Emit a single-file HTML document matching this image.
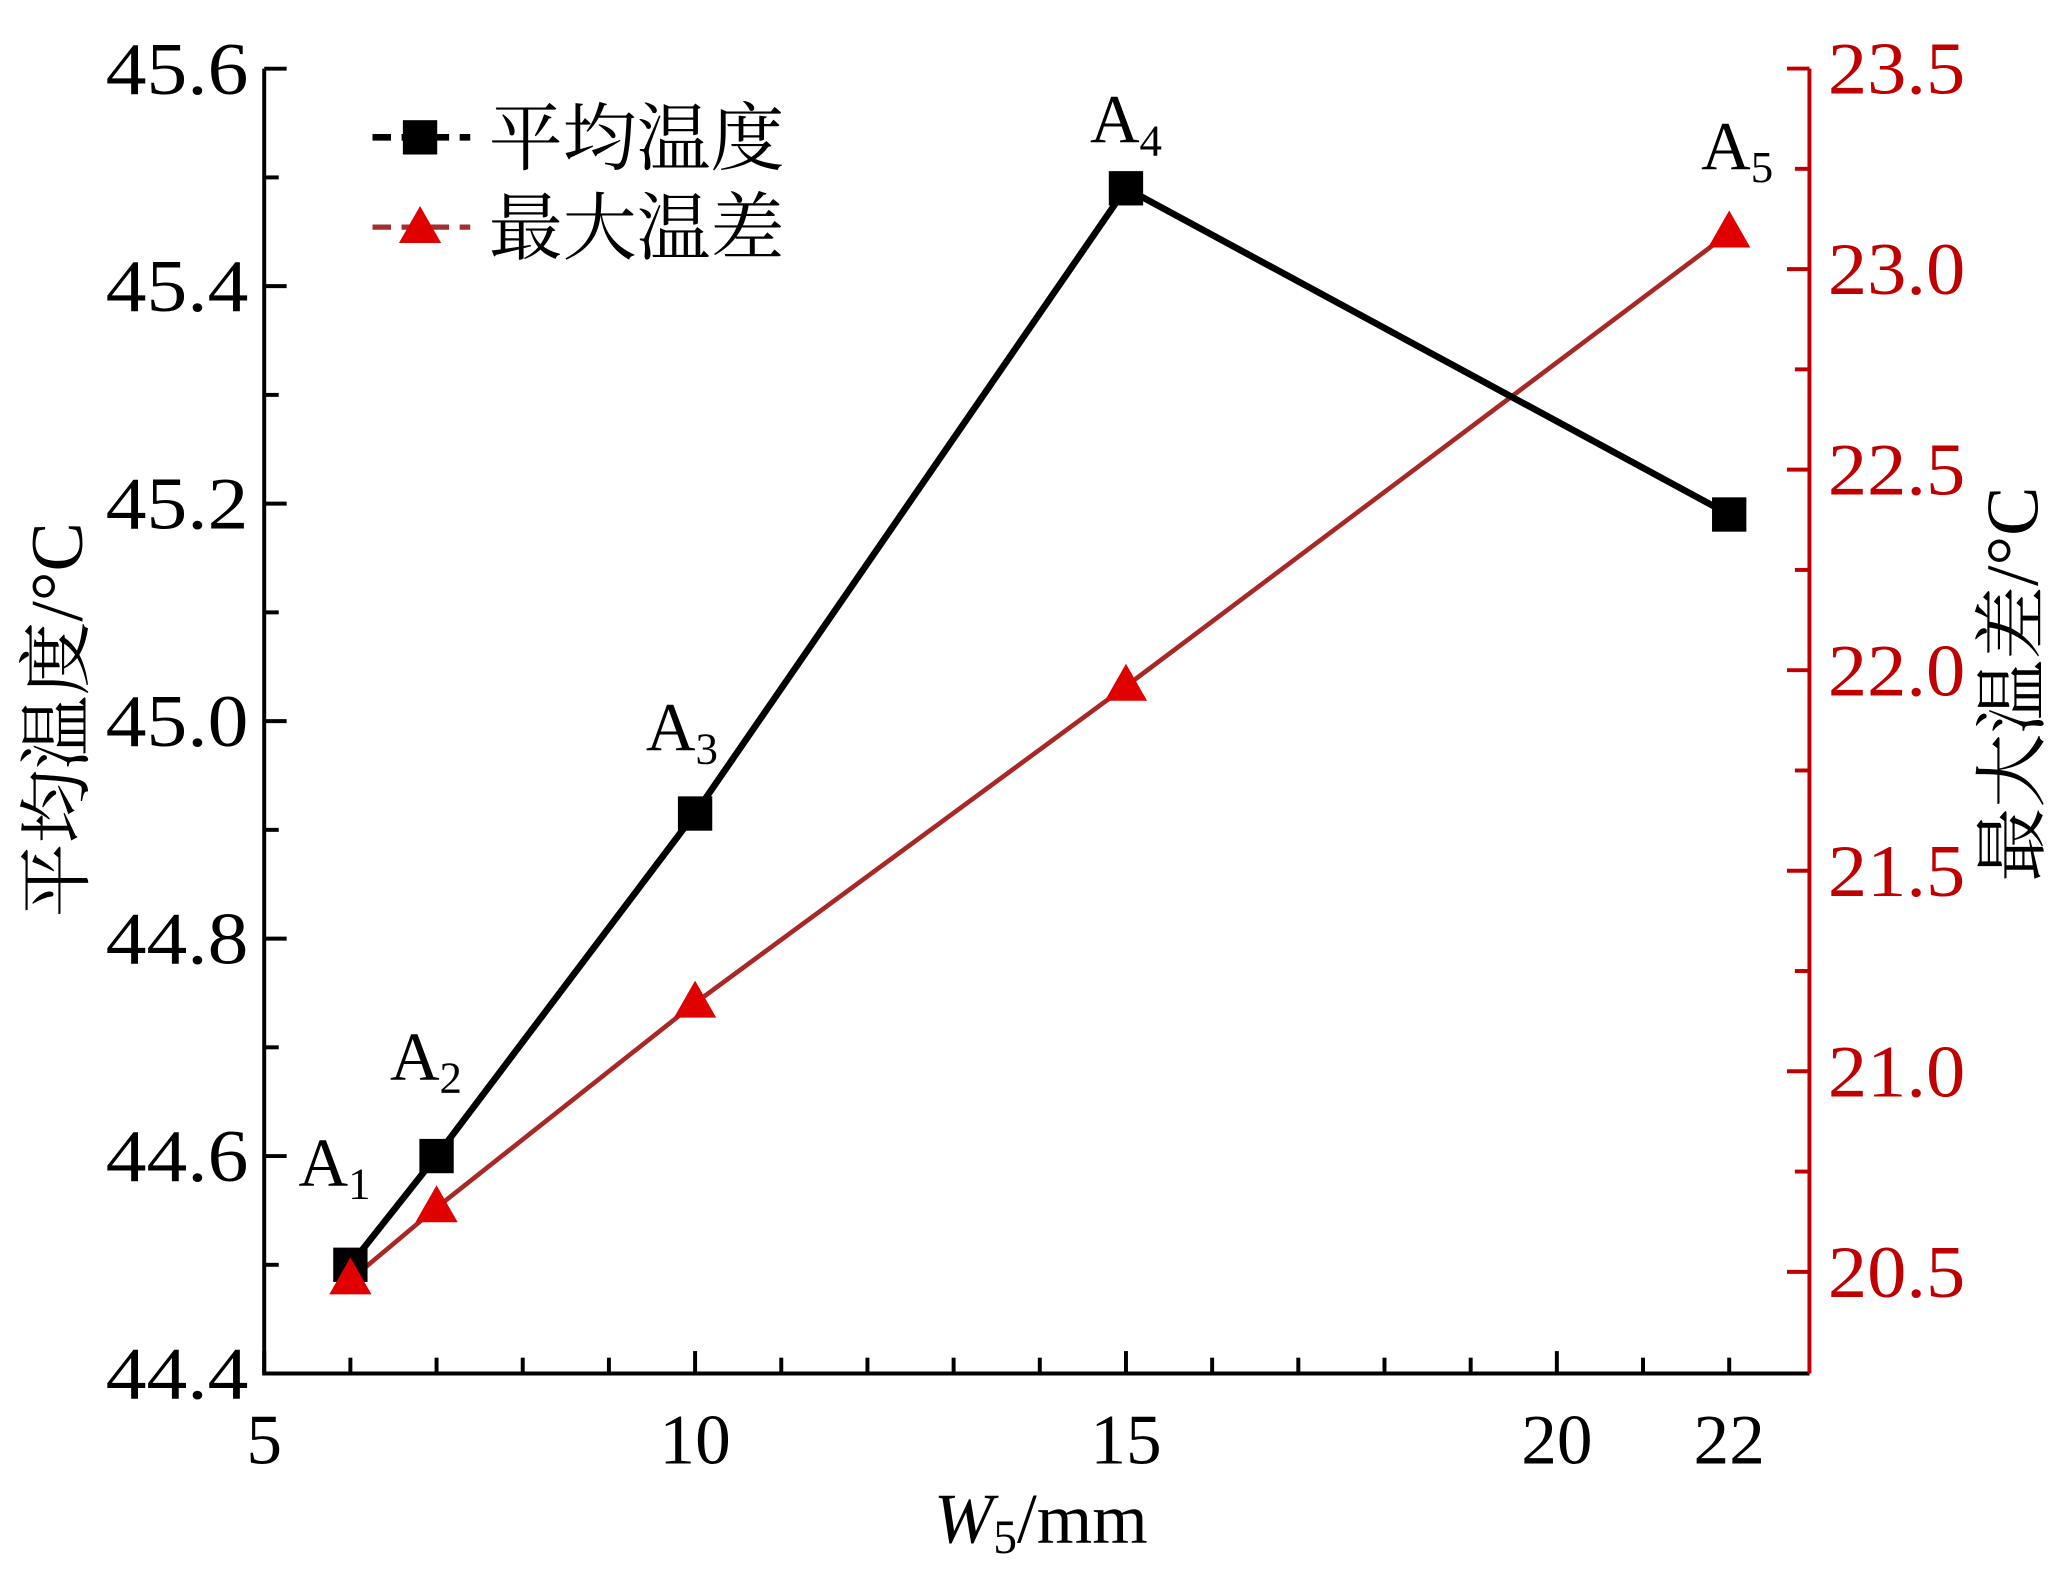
<!DOCTYPE html>
<html><head><meta charset="utf-8"><style>
html,body{margin:0;padding:0;background:#fff;}
svg{display:block;}
text{font-family:"Liberation Serif","Noto Serif CJK SC",serif;}
</style></head><body>
<svg id="chart" width="2071" height="1569" viewBox="0 0 1568 1188" xmlns="http://www.w3.org/2000/svg">
<g id="axes"></g>
<g id="series"></g>
<g>
  <line x1="282" y1="104" x2="356" y2="104" stroke="#000" stroke-width="5" stroke-dasharray="14,8"/>
  <rect x="305" y="91" width="26" height="26" fill="#000"/>
  <text x="370" y="124" font-size="56" fill="#000">平均温度</text>
  <line x1="282" y1="172" x2="356" y2="172" stroke="#a03030" stroke-width="4" stroke-dasharray="14,8"/>
  <polygon points="318,156 334,184 302,184" fill="#e00000"/>
  <text x="370" y="192" font-size="56" fill="#000">最大温差</text>
</g>
<text x="62" y="545" font-size="56" fill="#000" transform="rotate(-90 62 545)" text-anchor="middle">平均温度/°C</text>
<text x="1530" y="518" font-size="56" fill="#000" transform="rotate(-90 1530 518)" text-anchor="middle" dominant-baseline="middle">最大温差/°C</text>
<text x="788" y="1168" font-size="54" fill="#000" text-anchor="middle"><tspan font-style="italic">W</tspan><tspan font-size="36" dy="8">5</tspan><tspan dy="-8">/mm</tspan></text>
</svg>
<script>
const xCats = [6, 7, 10, 15, 22];
const avgTemp = [44.5, 44.6, 44.915, 45.49, 45.19];
const maxDiff = [20.48, 20.66, 21.17, 21.96, 23.09];
const pointLabels = ["1", "2", "3", "4", "5"];
const xTickLabels = [5, 10, 15, 20, 22];
const yLeftTicks = ["44.4", "44.6", "44.8", "45.0", "45.2", "45.4", "45.6"];
const yRightTicks = ["20.5", "21.0", "21.5", "22.0", "22.5", "23.0", "23.5"];

const NS = "http://www.w3.org/2000/svg";
const L = 200, R = 1370, T = 52, B = 1040;
const xs = v => L + (v - 5) * 65.25;
const yl = v => B - (v - 44.4) / 1.2 * (B - T);
const yr = v => 963 - (v - 20.5) * 303.7;
function mk(tag, attrs, parent) {
  const e = document.createElementNS(NS, tag);
  for (const k in attrs) e.setAttribute(k, attrs[k]);
  parent.appendChild(e);
  return e;
}
const ax = document.getElementById('axes');
const se = document.getElementById('series');
let e;
e = mk('path', {d: `M${L},${T} L${L},${B} L${R},${B}`, fill: 'none', stroke: '#000', 'stroke-width': 3}, ax);


e = mk('line', {x1: R, y1: T, x2: R, y2: B, stroke: '#c00000', 'stroke-width': 3}, ax);


for (let v = 5; v <= 22; v++) {
  e = mk('line', {x1: xs(v), y1: B, x2: xs(v), y2: B - (v % 5 === 0 ? 17 : 12), stroke: '#000', 'stroke-width': 3}, ax);
  
  
}
xTickLabels.forEach(v => {
  e = mk('text', {x: xs(v), y: 1108, 'font-size': 54, 'text-anchor': 'middle', fill: '#000'}, ax);
  e.textContent = v;
  
  
});
for (let i = 0; i <= 12; i++) {
  const v = 44.4 + i * 0.1;
  e = mk('line', {x1: L, y1: yl(v), x2: L + (i % 2 === 0 ? 17 : 11), y2: yl(v), stroke: '#000', 'stroke-width': 3}, ax);
  
  
}
yLeftTicks.forEach(s => {
  e = mk('text', {x: 188, y: yl(parseFloat(s)) + 19, 'font-size': 56, 'text-anchor': 'end', fill: '#000', textLength: 108, lengthAdjust: 'spacingAndGlyphs'}, ax);
  e.textContent = s;
  
  
});
for (let i = 0; i <= 12; i++) {
  const v = 20.5 + i * 0.25;
  e = mk('line', {x1: R, y1: yr(v), x2: R - (i % 2 === 0 ? 17 : 11), y2: yr(v), stroke: '#c00000', 'stroke-width': 3}, ax);
  
  
}
yRightTicks.forEach(s => {
  e = mk('text', {x: 1384, y: yr(parseFloat(s)) + 19, 'font-size': 56, 'text-anchor': 'start', fill: '#c00000', textLength: 104, lengthAdjust: 'spacingAndGlyphs'}, ax);
  e.textContent = s;
  
  
});
e = mk('polyline', {points: xCats.map((x, i) => xs(x) + ',' + yr(maxDiff[i])).join(' '), fill: 'none', stroke: '#a82828', 'stroke-width': 3.5}, se);


e = mk('polyline', {points: xCats.map((x, i) => xs(x) + ',' + yl(avgTemp[i])).join(' '), fill: 'none', stroke: '#000', 'stroke-width': 5}, se);


xCats.forEach((x, i) => {
  const cx = xs(x), cy = yl(avgTemp[i]);
  e = mk('rect', {x: cx - 13, y: cy - 13, width: 26, height: 26, fill: '#000'}, se);
  
  
});
xCats.forEach((x, i) => {
  const cx = xs(x), cy = yr(maxDiff[i]);
  e = mk('polygon', {points: `${cx},${cy - 17} ${cx + 16},${cy + 11} ${cx - 16},${cy + 11}`, fill: '#e00000'}, se);
  
  
});
const labelOff = [[-12, -60], [-8, -58], [-10, -48], [0, -35], [6, -15]];
xCats.forEach((x, i) => {
  e = mk('text', {x: xs(x) + labelOff[i][0], y: (i === 4 ? 128 : yl(avgTemp[i]) + labelOff[i][1]), 'font-size': 52, 'text-anchor': 'middle', fill: '#000'}, se);
  e.innerHTML = 'A<tspan font-size="34" dy="10">' + pointLabels[i] + '</tspan>';
  
  
});
</script>
</body></html>
